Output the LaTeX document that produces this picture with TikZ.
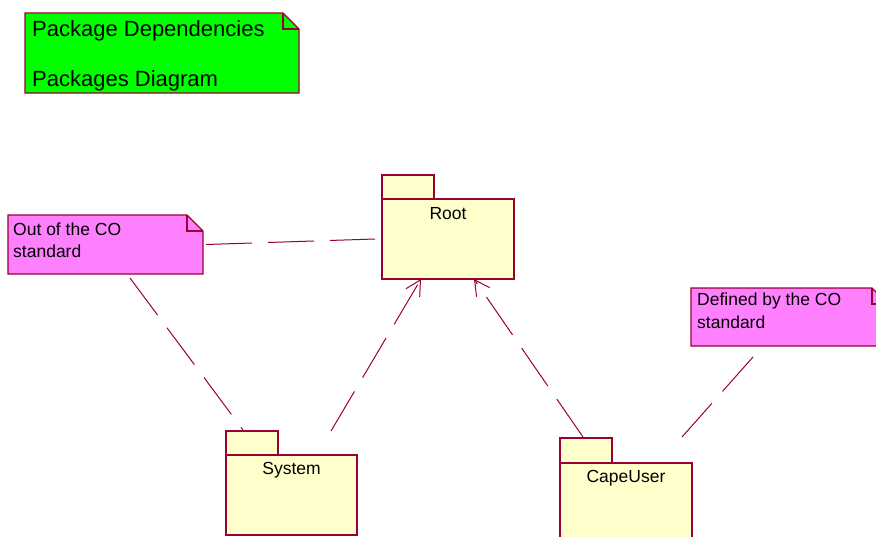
\documentclass[tikz,border=0pt]{standalone}
\usepackage{fontspec}
\setmainfont{Liberation Sans}
\usetikzlibrary{calc,arrows.meta}
\definecolor{umlline}{RGB}{153,0,51}
\definecolor{notegreen}{RGB}{0,255,0}
\definecolor{notepink}{RGB}{255,128,255}
\definecolor{pkgyellow}{RGB}{255,255,204}
\newcommand\drawnotebox[2]{%
  \draw[noteborder,fill=#2] (#1.north west) -- ($(#1.north east)+(-16,0)$) -- ($(#1.north east)+(0,16)$) -- (#1.south east) -- (#1.south west) -- cycle;
  \draw[noteborder] ($(#1.north east)+(-16,0)$) -- ($(#1.north east)+(-16,16)$) -- ($(#1.north east)+(0,16)$);
}
\begin{document}
\begin{tikzpicture}[x=1pt,y=-1pt,
  noteframe/.style={rectangle,inner sep=0pt,outer sep=0pt},
  noteborder/.style={draw=umlline,line width=1.4pt,line join=miter},
  pkgbox/.style={rectangle,draw=umlline,fill=pkgyellow,line width=1.2pt,inner sep=0pt,outer sep=0pt},
  bigtext/.style={font=\fontsize{22}{26}\selectfont,inner sep=0pt,anchor=base west},
  smalltext/.style={font=\fontsize{17.5}{21}\selectfont,inner sep=0pt},
  depline/.style={draw=umlline,line width=1pt,dash pattern=on 46pt off 16pt},
  deparrow/.style={depline,-{Straight Barb[length=15pt,width=16pt,line width=1pt]}}
]
\clip (0,0) rectangle (876,536);
\fill[white] (0,0) rectangle (876,536);

% title note
\node[noteframe,minimum width=274pt,minimum height=80pt] (title) at (162,53) {};
\drawnotebox{title}{notegreen}
\node[bigtext] (titleA) at (32,36) {Package Dependencies};
\node[bigtext] (titleB) at (32,86.5) {Packages Diagram};

% out note
\node[noteframe,minimum width=195pt,minimum height=59pt] (out) at (105.5,244.5) {};
\drawnotebox{out}{notepink}
\node[smalltext,anchor=base west] (outA) at (13,235) {Out of the CO};
\node[smalltext,anchor=base west] (outB) at (13,257) {standard};

% defined note
\node[noteframe,minimum width=197pt,minimum height=58pt] (def) at (789.5,317) {};
\drawnotebox{def}{notepink}
\node[smalltext,anchor=base west] (defA) at (697,305.5) {Defined by the CO};
\node[smalltext,anchor=base west] (defB) at (697,328.5) {standard};

% packages
\node[pkgbox,minimum width=52pt,minimum height=24pt,anchor=south west] (roottab) at (382,199) {};
\node[pkgbox,minimum width=132pt,minimum height=80pt] (root) at (448,239) {};
\node[smalltext,anchor=base] (rootname) at ($(root.north)+(0,20)$) {Root};

\node[pkgbox,minimum width=52pt,minimum height=24pt,anchor=south west] (systab) at (226,455) {};
\node[pkgbox,minimum width=131pt,minimum height=80pt] (system) at (291.5,495) {};
\node[smalltext,anchor=base] (sysname) at ($(system.north)+(0,19)$) {System};

\node[pkgbox,minimum width=52pt,minimum height=25pt,anchor=south west] (capetab) at (560,463) {};
\node[pkgbox,minimum width=132pt,minimum height=80pt] (cape) at (626,503) {};
\node[smalltext,anchor=base] (capename) at ($(cape.north)+(0,19)$) {CapeUser};

% connectors
\draw[depline] ($(out.east)+(3,0)$) -- ($(root.west)+(-7,0)$);
\draw[depline] ($(out.south west)+(122,4)$) -- ($(systab.north west)+(17,-1)$);
\draw[deparrow] ($(systab.north west)+(105,0)$) -- ($(root.south west)+(39,0)$);
\draw[deparrow] ($(capetab.north west)+(23,-1)$) -- ($(root.south west)+(92,0)$);
\draw[depline] ($(def.south west)+(62,11)$) -- ($(capetab.north west)+(122,-1)$);
\end{tikzpicture}
\end{document}
